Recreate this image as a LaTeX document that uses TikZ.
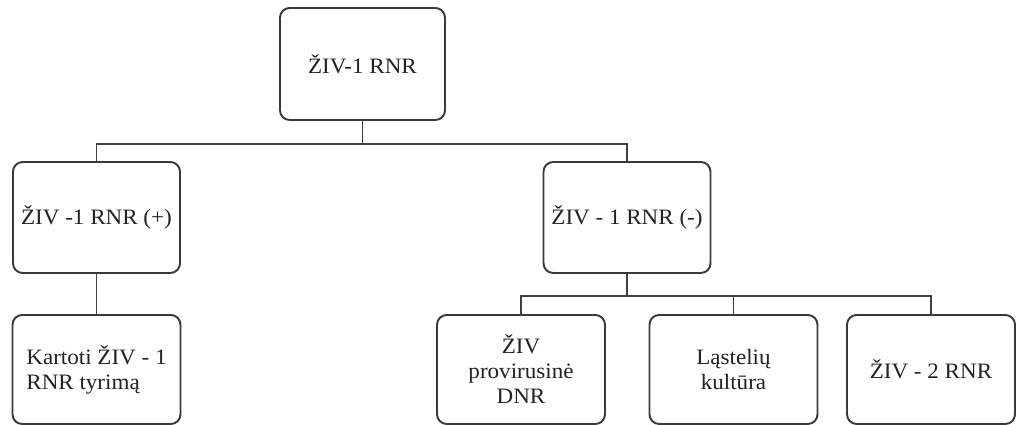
\documentclass[tikz,border=0pt]{standalone}
\usepackage{fontspec}
\setmainfont[FakeStretch=1.05]{Liberation Serif}
\usetikzlibrary{positioning}
\definecolor{ink}{HTML}{222222}
\definecolor{frame}{HTML}{3A3A3A}
\definecolor{wire}{HTML}{404040}
\tikzset{
  stage/.style={rounded corners=5.5pt, draw=frame, fill=white, line width=1.1pt,
    minimum width=3.34cm, minimum height=2.22cm, inner sep=1pt, align=center,
    font=\fontsize{12.5}{14.2}\selectfont, text=ink},
  topstage/.style={stage, minimum width=3.3cm, minimum height=2.24cm},
  leaf/.style={stage, minimum width=3.36cm, minimum height=2.18cm},
  link/.style={draw=wire, line width=.65pt}
}
\begin{document}
\begin{tikzpicture}[x=1cm,y=1cm]
  \useasboundingbox (0,0) rectangle (20.32,8.5);

  \node[topstage] (hiv) at (7.25,7.22) {ŽIV-1 RNR};

  \node[stage] (pos) at (1.93,4.15) {ŽIV -1 RNR (+)};
  \node[stage] (neg) at (12.54,4.15) {ŽIV - 1 RNR (-)};

  \node[leaf, align=left] (repeat) at (1.93,1.11) {Kartoti ŽIV - 1\\RNR tyrimą};
  \node[leaf] (provirus) at (10.42,1.11) {ŽIV\\provirusinė\\DNR};
  \node[leaf] (culture) at (14.67,1.11) {Ląstelių\\kultūra};
  \node[leaf] (hivtwo) at (18.62,1.11) {ŽIV - 2 RNR};

  \draw[link] (hiv.south) -- ++(0,-.46) -| (pos.north);
  \draw[link] (hiv.south) -- ++(0,-.46) -| (neg.north);
  \draw[link] (pos.south) -- (repeat.north);
  \draw[link] (neg.south) -- ++(0,-.44) -| (provirus.north);
  \draw[link] (neg.south) -- ++(0,-.44) -| (culture.north);
  \draw[link] (neg.south) -- ++(0,-.44) -| (hivtwo.north);
\end{tikzpicture}
\end{document}
